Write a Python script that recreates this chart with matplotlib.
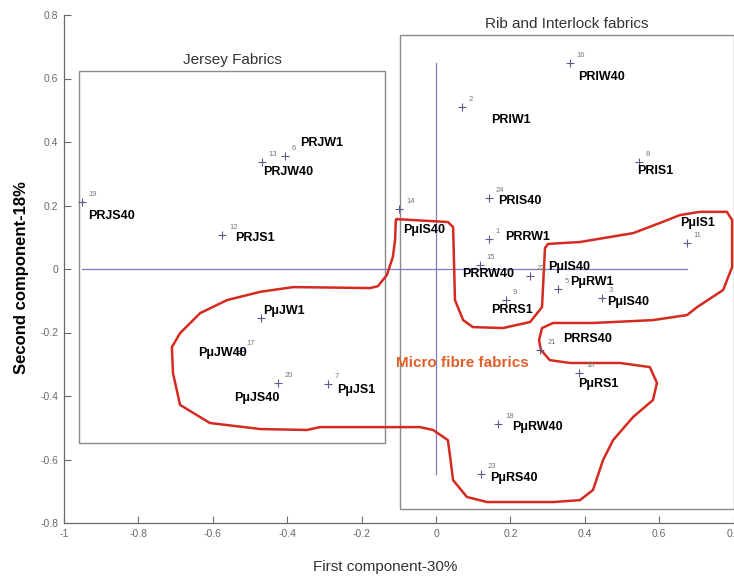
import matplotlib
matplotlib.use("Agg")
import matplotlib.pyplot as plt
from matplotlib.patches import Rectangle

plt.rcParams['font.family'] = ['Liberation Sans', 'DejaVu Sans']

# PCA SCORES (first and second component) for each fabric sample
ids = [1, 2, 3, 4, 5, 6, 7, 8, 9, 10, 11, 12,
       13, 14, 15, 16, 17, 18, 19, 20, 21, 22, 23, 24]
pc1 = [0.142, 0.070, 0.446, -0.470, 0.328, -0.406, -0.290, 0.546, 0.188, 0.385, 0.674, -0.575,
       -0.468, -0.099, 0.118, 0.360, -0.527, 0.167, -0.952, -0.425, 0.280, 0.253, 0.121, 0.142]
pc2 = [0.094, 0.510, -0.091, -0.154, -0.063, 0.356, -0.362, 0.337, -0.098, -0.327, 0.082, 0.107,
       0.337, 0.189, 0.013, 0.649, -0.258, -0.488, 0.211, -0.359, -0.255, -0.022, -0.646, 0.224]
# sample numbers that are printed next to the marker (4 sits under its name)
shown_ids = [i for i in ids if i != 4]

# FABRIC NAMES and where they were written
names = ["PRJS40", "PRJS1", "PRJW1", "PRJW40", "PRIW40", "PRIW1", "PRIS1", "PRIS40",
         "PμIS40", "PRRW1", "PμIS1", "PRRW40", "PμIS40", "PμRW1", "PμIS40", "PRRS1",
         "PRRS40", "PμRS1", "PμRW40", "PμRS40", "PμJW1", "PμJW40", "PμJS40", "PμJS1"]
name_x = [-0.935, -0.540, -0.366, -0.465, 0.382, 0.148, 0.540, 0.167,
          -0.089, 0.185, 0.656, 0.070, 0.301, 0.360, 0.460, 0.148,
          0.341, 0.382, 0.204, 0.145, -0.465, -0.640, -0.543, -0.266]
name_y = [0.167, 0.098, 0.397, 0.306, 0.605, 0.469, 0.309, 0.214,
          0.123, 0.101, 0.145, -0.016, 0.006, -0.041, -0.104, -0.129,
          -0.220, -0.362, -0.498, -0.658, -0.132, -0.265, -0.406, -0.381]

# hand drawn outline around the micro fibre fabrics
micro_x = [-0.105, 0.032, 0.046, 0.051, 0.073, 0.099, 0.180, 0.253, 0.285, 0.293, 0.301,
           0.387, 0.530, 0.602, 0.656, 0.710, 0.782, 0.796, 0.796, 0.772, 0.702, 0.675,
           0.583, 0.422, 0.315, 0.285, 0.277, 0.282, 0.306, 0.360, 0.495, 0.575, 0.594,
           0.583, 0.530, 0.476, 0.449, 0.422, 0.387, 0.315, 0.137, 0.083, 0.046, 0.038,
           0.032, -0.008, -0.043, -0.097, -0.312, -0.347, -0.473, -0.608, -0.688, -0.707,
           -0.710, -0.688, -0.634, -0.562, -0.473, -0.384, -0.177, -0.156, -0.132, -0.116,
           -0.110, -0.108, -0.105]
micro_y = [0.157, 0.148, 0.132, -0.098, -0.161, -0.183, -0.186, -0.167, -0.120, 0.066, 0.079,
           0.085, 0.113, 0.145, 0.170, 0.180, 0.180, 0.154, 0.006, -0.066, -0.120, -0.145,
           -0.161, -0.170, -0.170, -0.186, -0.224, -0.255, -0.287, -0.296, -0.296, -0.309, -0.359,
           -0.413, -0.466, -0.539, -0.602, -0.696, -0.728, -0.734, -0.734, -0.718, -0.665, -0.592,
           -0.539, -0.507, -0.498, -0.498, -0.498, -0.507, -0.504, -0.485, -0.428, -0.328,
           -0.246, -0.202, -0.139, -0.098, -0.072, -0.057, -0.060, -0.054, -0.019, 0.038,
           0.091, 0.154, 0.157]

# group boxes: x0, y0, x1, y1
jersey_box = [-0.960, -0.548, -0.137, 0.624]
rib_box = [-0.097, -0.756, 0.800, 0.737]


def main():
    fig = plt.figure(figsize=(7.34, 5.79), dpi=100)
    ax = fig.add_axes([64 / 734, 56 / 579, 669.6 / 734, 508 / 579])

    ax.set_xlim(-1, 0.8)
    ax.set_ylim(-0.8, 0.8)

    # group boxes with their titles
    for box, title in [(jersey_box, "Jersey Fabrics"), (rib_box, "Rib and Interlock fabrics")]:
        ax.add_patch(Rectangle((box[0], box[1]), box[2] - box[0], box[3] - box[1],
                               fill=False, edgecolor="#8a8a8a", linewidth=1.0, clip_on=False))
        ax.text((box[0] + box[2]) / 2, box[3] + 0.012, title, ha="center", va="bottom",
                fontsize=11, color="#333333")

    # axes of the score plot through the origin
    ax.plot([min(pc1), max(pc1)], [0, 0], color="#7c7cc4", linewidth=0.9)
    ax.plot([0, 0], [min(pc2), max(pc2)], color="#7c7cc4", linewidth=0.9)

    ax.plot(micro_x, micro_y, color="#d42a20", linewidth=1.8, solid_joinstyle="round")
    ax.text(-0.108, -0.296, "Micro fibre fabrics", ha="left", va="center",
            fontsize=11, fontweight="bold", color="#e0602a")

    ax.plot(pc1, pc2, linestyle="none", marker="+", markersize=6, markeredgewidth=0.8,
            color="#5c5c8c")
    for i in shown_ids:
        ax.annotate(str(i), (pc1[i - 1], pc2[i - 1]), xytext=(5, 3), textcoords="offset points",
                    fontsize=5.5, color="#777777", ha="left", va="bottom")

    for n, x, y in zip(names, name_x, name_y):
        ax.text(x, y, n, ha="left", va="center", fontsize=9, fontweight="bold", color="black")

    ax.set_xticks([-1, -0.8, -0.6, -0.4, -0.2, 0, 0.2, 0.4, 0.6, 0.8])
    ax.set_xticklabels(["-1", "-0.8", "-0.6", "-0.4", "-0.2", "0", "0.2", "0.4", "0.6", "0.8"])
    ax.set_yticks([-0.8, -0.6, -0.4, -0.2, 0, 0.2, 0.4, 0.6, 0.8])
    ax.set_yticklabels(["-0.8", "-0.6", "-0.4", "-0.2", "0", "0.2", "0.4", "0.6", "0.8"])
    ax.tick_params(direction="in", length=5, width=0.8, color="#6a6a6a",
                   labelsize=7.5, labelcolor="#6a6a6a", pad=4)
    for side in ["top", "right"]:
        ax.spines[side].set_visible(False)
    for side in ["left", "bottom"]:
        ax.spines[side].set_color("#6a6a6a")
        ax.spines[side].set_linewidth(0.9)

    fig.text(385 / 734, 1 - 567 / 579, "First component-30%", ha="center", va="center",
             fontsize=11, color="#333333")
    fig.text(22 / 734, 1 - 278 / 579, "Second component-18%", ha="center", va="center",
             rotation=90, fontsize=12, fontweight="bold", color="black")

    fig.savefig("out.png", dpi=100)


if __name__ == "__main__":
    main()
